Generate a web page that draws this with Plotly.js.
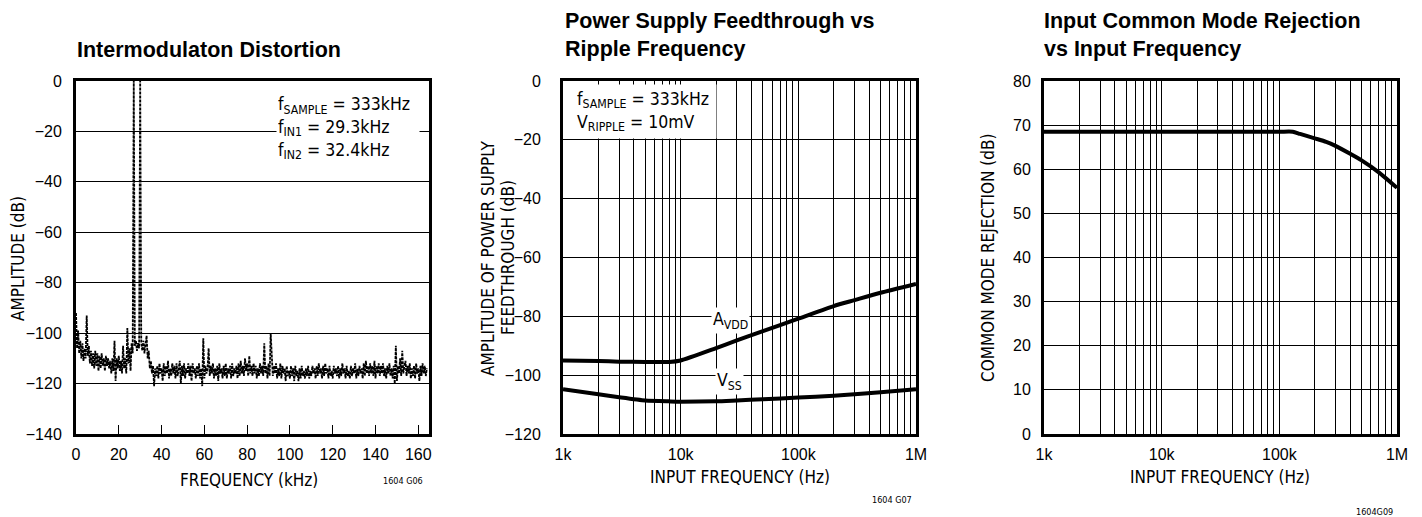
<!DOCTYPE html>
<html>
<head>
<meta charset="utf-8">
<script src="https://cdn.plot.ly/plotly-3.0.1.min.js"></script>
<style>
html,body{margin:0;padding:0;background:#fff;}
#chart{width:1422px;height:517px;}
</style>
</head>
<body>
<div id="chart"></div>
<script>
// ---------- Panel 1: Intermodulation distortion spectrum ----------
var imdBinKHz = 0.5; // FFT bin spacing used to read the spectrum
var imdAmplitude = [
  -92,-106,-99,-108,-103,-110,-104,-111,-106,-110,
  -93,-109,-105,-112,-107,-113,-108,-114,-107,-113,
  -108,-115,-109,-114,-108,-113,-110,-115,-109,-113,
  -110,-114,-111,-116,-110,-115,-103,-119,-110,-114,
  -109,-115,-111,-116,-105,-114,-110,-116,-98,-112,
  -106,-115,-104,-108,0,-105,-103,-107,-104,-106,
  0,-104,-107,-103,-108,-105,-101,-110,-107,-114,
  -111,-116,-113,-121,-114,
  -117,-113,-118,-112,-116,-114,-119,-112,-117,-113,
  -116,-111,-118,-114,-117,-112,-116,-113,-118,-112,
  -117,-114,-111,-120,-113,-117,-112,-118,-114,-116,
  -112,-117,-113,-119,-112,-116,-114,-118,-113,-117,
  -112,-118,-114,-121,-102,-118,-113,-116,-114,-106,
  -117,-113,-116,-112,-118,-114,-117,-113,-119,-112,
  -116,-114,-118,-113,-117,-112,-118,-114,-116,-113,
  -118,-112,-117,-114,-116,-113,-118,-112,-117,-111,
  -116,-113,-117,-110,-115,-112,-117,-109,-116,-113,
  -117,-112,-116,-113,-118,-114,-117,-112,-116,-113,
  -117,-104,-116,-113,-118,-112,-117,-100,-111,-117,
  -113,-116,-112,-118,-114,-117,-112,-118,-113,-116,
  -114,-119,-113,-117,-115,-118,-113,-117,-114,-119,
  -113,-117,-115,-119,-114,-118,-113,-117,-115,-118,
  -114,-117,-113,-118,-115,-117,-113,-116,-114,-118,
  -113,-117,-112,-116,-114,-118,-113,-117,-112,-116,
  -114,-118,-113,-117,-115,-118,-113,-116,-114,-117,
  -113,-118,-114,-117,-112,-116,-114,-118,-113,-117,
  -115,-118,-113,-117,-114,-116,-112,-118,-114,-117,
  -113,-116,-114,-118,-112,-117,-111,-116,-113,-117,
  -112,-116,-113,-117,-111,-118,-113,-116,-112,-117,
  -113,-116,-112,-117,-114,-118,-113,-116,-112,-117,
  -114,-118,-113,-120,-105,-119,-113,-116,-110,-117,
  -107,-116,-113,-111,-117,-113,-116,-112,-118,-114,
  -117,-113,-118,-112,-116,-114,-119,-113,-117,-112,
  -116,-113,-117,-114
];
var imdFreqKHz = imdAmplitude.map(function(_, i){ return i * imdBinKHz; });
var imdXTicks = [0,20,40,60,80,100,120,140,160];
var imdYTicks = [-140,-120,-100,-80,-60,-40,-20,0];

// ---------- Panel 2: Power supply feedthrough ----------
var psFreqHz = [1e3,2e3,3e3,5e3,8e3,1e4,2e4,3e4,5e4,1e5,2e5,3e5,5e5,1e6];
var psAvdd   = [-95,-95.2,-95.4,-95.5,-95.5,-95,-90.8,-88.2,-85,-80.8,-76.5,-74.5,-72,-69];
var psVss    = [-104.8,-106.5,-107.5,-108.6,-108.9,-109,-108.9,-108.6,-108.2,-107.6,-107,-106.5,-105.8,-104.8];

// ---------- Panel 3: CMRR ----------
var cmFreqHz = [1e3,1e4,1e5,1.3e5,1.5e5,2e5,2.5e5,3e5,4e5,5e5,7e5,1e6];
var cmRejection = [68.5,68.5,68.5,68.5,68.0,67.0,66.2,65.3,63.5,62.0,59.3,55.8];

var decadeTicks = [1e3,1e4,1e5,1e6];
var decadeText  = ['1k','10k','100k','1M'];
var minorTicks  = [2e3,3e3,4e3,5e3,6e3,7e3,8e3,9e3,2e4,3e4,4e4,5e4,6e4,7e4,8e4,9e4,2e5,3e5,4e5,5e5,6e5,7e5,8e5,9e5];

var W = 1422, H = 517;
function px(x){ return x / W; }
function py(y){ return 1 - y / H; }

var FN = 'Liberation Sans Narrow, DejaVu Sans Condensed, Arial Narrow, sans-serif';
var FS = 'Liberation Sans, Arial, sans-serif';
var tickFont = {family: FS, size: 16, color: '#000'};
var axTitleFont = {family: FN, size: 17, color: '#000'};
var noteFont = {family: FN, size: 17.5, color: '#000'};
var headFont = {family: FS, size: 21.5, color: '#000'};

var yTop = py(81), yBot = py(434);

var frame = {showline: true, mirror: true, linecolor: '#000', linewidth: 3, zeroline: false, automargin: false};
var logMinor = {tickvals: minorTicks, showgrid: true, gridcolor: '#000', gridwidth: 1, ticks: ''};

var traces = [
  {x: imdFreqKHz, y: imdAmplitude, xaxis: 'x', yaxis: 'y', mode: 'lines',
   line: {color: '#000', width: 1.8, dash: '3px,1px'}, hoverinfo: 'skip'},
  {x: psFreqHz, y: psAvdd, xaxis: 'x2', yaxis: 'y2', mode: 'lines',
   line: {color: '#000', width: 4, shape: 'spline', smoothing: 0.6}},
  {x: psFreqHz, y: psVss, xaxis: 'x2', yaxis: 'y2', mode: 'lines',
   line: {color: '#000', width: 4, shape: 'spline', smoothing: 0.6}},
  {x: cmFreqHz, y: cmRejection, xaxis: 'x3', yaxis: 'y3', mode: 'lines',
   line: {color: '#000', width: 4, shape: 'spline', smoothing: 0.6}}
];

function note(x, y, text, opts){
  return Object.assign({xref: 'paper', yref: 'paper', x: px(x), y: py(y), xanchor: 'left', yanchor: 'middle',
    showarrow: false, align: 'left', text: text, font: noteFont}, opts || {});
}
var boxed = {bgcolor: '#fff', borderpad: 1};

var layout = {
  width: W, height: H,
  margin: {l: 0, r: 0, t: 0, b: 0},
  paper_bgcolor: '#fff', plot_bgcolor: '#fff',
  showlegend: false,
  font: {family: FS, color: '#000'},
  xaxis: Object.assign({}, frame, {
    domain: [px(76), px(429)], range: [0, 165], anchor: 'y',
    tickvals: imdXTicks, ticks: 'inside', ticklen: 9, tickwidth: 1, tickcolor: '#000',
    showgrid: false, tickfont: tickFont, ticklabelstandoff: 4
  }),
  yaxis: Object.assign({}, frame, {
    domain: [yBot, yTop], range: [-140, 0], anchor: 'x',
    tickvals: imdYTicks, ticks: '', showgrid: true, gridcolor: '#000', gridwidth: 1,
    tickfont: tickFont, ticklabelstandoff: 8
  }),
  xaxis2: Object.assign({}, frame, {
    domain: [px(563), px(916)], type: 'log', range: [3, 6], anchor: 'y2',
    tickvals: decadeTicks, ticktext: decadeText, ticks: '', minor: logMinor,
    showgrid: true, gridcolor: '#000', gridwidth: 1, tickfont: tickFont, ticklabelstandoff: 4
  }),
  yaxis2: Object.assign({}, frame, {
    domain: [yBot, yTop], range: [-120, 0], anchor: 'x2',
    dtick: 20, ticks: '', showgrid: true, gridcolor: '#000', gridwidth: 1,
    tickfont: tickFont, ticklabelstandoff: 16
  }),
  xaxis3: Object.assign({}, frame, {
    domain: [px(1044), px(1397)], type: 'log', range: [3, 6], anchor: 'y3',
    tickvals: decadeTicks, ticktext: decadeText, ticks: '', minor: logMinor,
    showgrid: true, gridcolor: '#000', gridwidth: 1, tickfont: tickFont, ticklabelstandoff: 4
  }),
  yaxis3: Object.assign({}, frame, {
    domain: [yBot, yTop], range: [0, 80], anchor: 'x3',
    dtick: 10, ticks: '', showgrid: true, gridcolor: '#000', gridwidth: 1,
    tickfont: tickFont, ticklabelstandoff: 7
  }),
  annotations: [
    // panel titles
    note(75, 50, '<b>Intermodulaton Distortion</b>', {font: headFont}),
    note(563, 35, '<b>Power Supply Feedthrough vs<br>Ripple Frequency</b>', {font: headFont}),
    note(1042, 35, '<b>Input Common Mode Rejection<br>vs Input Frequency</b>', {font: headFont}),
    // axis titles
    note(249, 480, 'FREQUENCY (kHz)', {xanchor: 'center', font: axTitleFont}),
    note(18, 259, 'AMPLITUDE (dB)', {xanchor: 'center', textangle: -90, font: axTitleFont}),
    note(740, 477, 'INPUT FREQUENCY (Hz)', {xanchor: 'center', font: axTitleFont}),
    note(488, 258, 'AMPLITUDE OF POWER SUPPLY', {xanchor: 'center', textangle: -90, font: axTitleFont}),
    note(508, 258, 'FEEDTHROUGH (dB)', {xanchor: 'center', textangle: -90, font: axTitleFont}),
    note(1220, 477, 'INPUT FREQUENCY (Hz)', {xanchor: 'center', font: axTitleFont}),
    note(988, 258, 'COMMON MODE REJECTION (dB)', {xanchor: 'center', textangle: -90, font: axTitleFont}),
    // in-plot notes (white boxes interrupt the grid like the original)
    note(276, 127.5, 'f<sub>SAMPLE</sub> = 333kHz<br>f<sub>IN1</sub> = 29.3kHz<br>f<sub>IN2</sub> = 32.4kHz',
         {width: 140, bgcolor: '#fff', borderpad: 1}),
    note(565, 111.5, '&nbsp;&nbsp;f<sub>SAMPLE</sub> = 333kHz<br>&nbsp;&nbsp;V<sub>RIPPLE</sub> = 10mV',
         {width: 148, height: 51, bgcolor: '#fff', borderpad: 1, valign: 'middle'}),
    note(711, 320, 'A<sub>VDD</sub>', boxed),
    note(715, 381, 'V<sub>SS</sub>', boxed),
    // figure codes
    note(425, 481, '1604 G06', {xanchor: 'right', font: {family: FN, size: 9, color: '#000'}}),
    note(914, 500, '1604 G07', {xanchor: 'right', font: {family: FN, size: 9, color: '#000'}}),
    note(1395, 512, '1604G09', {xanchor: 'right', font: {family: FN, size: 9, color: '#000'}})
  ]
};

Plotly.newPlot('chart', traces, layout, {staticPlot: true, displayModeBar: false});
</script>
</body>
</html>
